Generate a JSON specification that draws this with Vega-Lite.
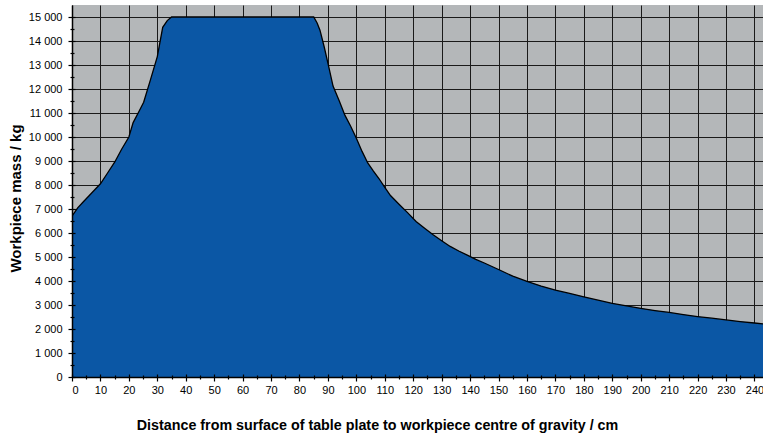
{
  "$schema": "https://vega.github.io/schema/vega-lite/v6.json",
  "width": 691,
  "height": 372,
  "autosize": {"type": "none"},
  "padding": {"left": 72, "top": 5, "right": 0, "bottom": 58},
  "background": "white",
  "config": {
    "font": "Liberation Sans",
    "view": {"fill": "#b4b7b9", "stroke": null}
  },
  "data": {
    "values": [
      {"d": 0, "m": 6700}, {"d": 2, "m": 7050}, {"d": 4, "m": 7300}, {"d": 6, "m": 7550},
      {"d": 8, "m": 7800}, {"d": 10, "m": 8050}, {"d": 12.5, "m": 8500}, {"d": 15, "m": 8950},
      {"d": 17.5, "m": 9500}, {"d": 20, "m": 10000}, {"d": 21.5, "m": 10600}, {"d": 23.5, "m": 11050},
      {"d": 25.2, "m": 11450}, {"d": 27.5, "m": 12350}, {"d": 30, "m": 13350}, {"d": 31.9, "m": 14570},
      {"d": 33.5, "m": 14850}, {"d": 35, "m": 15000}, {"d": 85, "m": 15000}, {"d": 86.2, "m": 14750},
      {"d": 87.2, "m": 14450}, {"d": 88.7, "m": 13750}, {"d": 90.1, "m": 13030}, {"d": 91.8, "m": 12120},
      {"d": 94, "m": 11500}, {"d": 96, "m": 10900}, {"d": 98, "m": 10450}, {"d": 100, "m": 9950},
      {"d": 102, "m": 9400}, {"d": 104, "m": 8920}, {"d": 106, "m": 8580}, {"d": 108, "m": 8260},
      {"d": 110, "m": 7900}, {"d": 112, "m": 7560}, {"d": 115, "m": 7200}, {"d": 118, "m": 6850},
      {"d": 121, "m": 6480}, {"d": 124, "m": 6200}, {"d": 127, "m": 5930}, {"d": 130, "m": 5680},
      {"d": 133, "m": 5440}, {"d": 136, "m": 5250}, {"d": 139, "m": 5080}, {"d": 142, "m": 4900},
      {"d": 145, "m": 4750}, {"d": 150, "m": 4480}, {"d": 155, "m": 4200}, {"d": 160, "m": 3980},
      {"d": 165, "m": 3790}, {"d": 170, "m": 3620}, {"d": 175, "m": 3480}, {"d": 180, "m": 3340},
      {"d": 185, "m": 3200}, {"d": 190, "m": 3070}, {"d": 195, "m": 2960}, {"d": 200, "m": 2860},
      {"d": 205, "m": 2770}, {"d": 210, "m": 2690}, {"d": 215, "m": 2600}, {"d": 220, "m": 2520},
      {"d": 225, "m": 2450}, {"d": 230, "m": 2380}, {"d": 235, "m": 2310}, {"d": 240, "m": 2250},
      {"d": 243, "m": 2210}
    ]
  },
  "resolve": {"axis": {"x": "independent", "y": "independent"}},
  "layer": [
    {
      "mark": {"type": "area", "color": "#0b57a5", "opacity": 1, "clip": true},
      "encoding": {
        "x": {
          "field": "d",
          "type": "quantitative",
          "scale": {"domain": [0, 243], "nice": false, "zero": false},
          "axis": {
            "orient": "bottom",
            "title": "Distance from surface of table plate to workpiece centre of gravity / cm",
            "titleFontSize": 14.3,
            "titleFontWeight": "bold",
            "titleColor": "#000000",
            "titleX": 305,
            "titleY": 48,
            "titleBaseline": "middle",
            "values": [0,5,10,15,20,25,30,35,40,45,50,55,60,65,70,75,80,85,90,95,100,105,110,115,120,125,130,135,140,145,150,155,160,165,170,175,180,185,190,195,200,205,210,215,220,225,230,235,240],
            "labelExpr": "datum.value % 10 === 0 ? datum.label : ''",
            "labelFontSize": 11,
            "labelColor": "#000000",
            "labelPadding": 3,
            "domain": false,
            "tickColor": "#000000",
            "tickWidth": 1.2,
            "tickSize": {"condition": {"test": "datum.value % 10 === 0", "value": 4}, "value": 2},
            "grid": true,
            "gridColor": "#1a1a1a",
            "gridWidth": 1,
            "gridOpacity": {"condition": {"test": "datum.value % 10 === 0", "value": 1}, "value": 0},
            "zindex": 0
          }
        },
        "y": {
          "field": "m",
          "type": "quantitative",
          "scale": {"domain": [0, 15500], "nice": false},
          "axis": {
            "orient": "left",
            "title": "Workpiece mass / kg",
            "titleFontSize": 15,
            "titleFontWeight": "bold",
            "titleColor": "#000000",
            "titleAngle": -90,
            "titleX": -57,
            "titleY": 193,
            "titleBaseline": "middle",
            "titleAlign": "center",
            "values": [0,500,1000,1500,2000,2500,3000,3500,4000,4500,5000,5500,6000,6500,7000,7500,8000,8500,9000,9500,10000,10500,11000,11500,12000,12500,13000,13500,14000,14500,15000],
            "labelExpr": "datum.value % 1000 === 0 ? replace(format(datum.value, ','), ',', ' ') : ''",
            "labelFontSize": 11,
            "labelColor": "#000000",
            "labelPadding": 6,
            "domain": false,
            "tickColor": "#000000",
            "tickWidth": 1.2,
            "tickSize": {"condition": {"test": "datum.value % 1000 === 0", "value": 4}, "value": 2},
            "grid": true,
            "gridColor": "#1a1a1a",
            "gridWidth": 1,
            "gridOpacity": {"condition": {"test": "datum.value % 1000 === 0", "value": 1}, "value": 0},
            "zindex": 0
          }
        }
      }
    },
    {
      "mark": {"type": "line", "color": "#000000", "strokeWidth": 1.3, "clip": true},
      "encoding": {
        "x": {
          "field": "d",
          "type": "quantitative",
          "axis": {
            "orient": "bottom",
            "title": null,
            "values": [0,5,10,15,20,25,30,35,40,45,50,55,60,65,70,75,80,85,90,95,100,105,110,115,120,125,130,135,140,145,150,155,160,165,170,175,180,185,190,195,200,205,210,215,220,225,230,235,240],
            "labels": false,
            "grid": false,
            "domain": true,
            "domainColor": "#000000",
            "domainWidth": 1.5,
            "tickColor": "#000000",
            "tickWidth": 1.2,
            "tickSize": {"condition": {"test": "datum.value % 10 === 0", "value": -3}, "value": -2},
            "zindex": 1
          }
        },
        "y": {
          "field": "m",
          "type": "quantitative",
          "axis": {
            "orient": "left",
            "title": null,
            "values": [0,500,1000,1500,2000,2500,3000,3500,4000,4500,5000,5500,6000,6500,7000,7500,8000,8500,9000,9500,10000,10500,11000,11500,12000,12500,13000,13500,14000,14500,15000],
            "labels": false,
            "grid": false,
            "domain": true,
            "domainColor": "#000000",
            "domainWidth": 1.5,
            "tickColor": "#000000",
            "tickWidth": 1.2,
            "tickSize": {"condition": {"test": "datum.value % 1000 === 0", "value": -3}, "value": -2},
            "zindex": 1
          }
        }
      }
    }
  ]
}
